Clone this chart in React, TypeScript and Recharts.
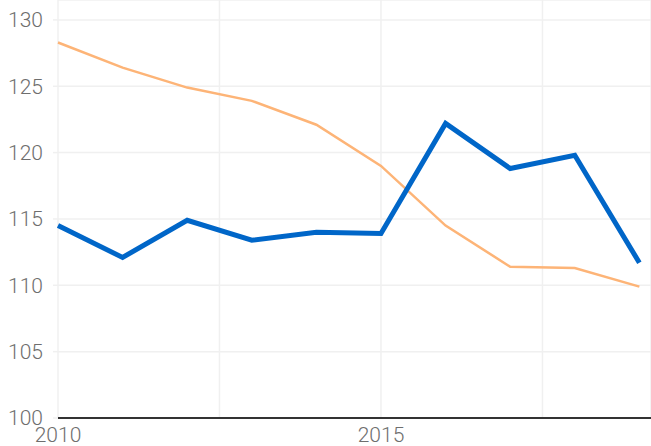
import { LineChart, Line, XAxis, YAxis, CartesianGrid } from 'recharts';

const years = [2010, 2011, 2012, 2013, 2014, 2015, 2016, 2017, 2018, 2019];
const blueSeries = [114.5, 112.1, 114.9, 113.4, 114.0, 113.9, 122.2, 118.8, 119.8, 111.7];
const orangeSeries = [128.3, 126.4, 124.9, 123.9, 122.1, 119.0, 114.5, 111.4, 111.3, 109.9];
const xTicks = [2010, 2012.5, 2015, 2017.5];
const yTicks = [100, 105, 110, 115, 120, 125, 130];

const data = years.map((year, i) => ({ year, blue: blueSeries[i], orange: orangeSeries[i] }));

const tickStyle = { fill: '#6e6e6e', fontSize: 21, fontWeight: 300, fontFamily: 'Roboto, sans-serif' };

export default function App() {
  return (
    <div style={{ position: 'fixed', left: 0, top: 0, width: 651, height: 446, background: '#fff' }}>
      <LineChart width={651} height={446} data={data} margin={{ top: 0, right: 0, bottom: 0, left: 0 }}>
        <CartesianGrid stroke="#f0f0f0" strokeWidth={1.5} />
        <XAxis
          dataKey="year"
          type="number"
          domain={[2010, 2019.18]}
          ticks={xTicks}
          tickFormatter={(v: number) => (Number.isInteger(v) ? String(v) : '')}
          axisLine={{ stroke: '#333', strokeWidth: 2 }}
          tickLine={false}
          tickMargin={3}
          tick={tickStyle}
          interval={0}
          height={28}
        />
        <YAxis
          type="number"
          domain={[100, 131.5]}
          ticks={yTicks}
          axisLine={false}
          tickLine={{ stroke: '#f0f0f0', strokeWidth: 1.5 }}
          tickSize={5}
          tickMargin={10}
          tick={tickStyle}
          width={58}
          interval={0}
        />
        <Line dataKey="orange" stroke="#fdb477" strokeWidth={2.5} dot={false} isAnimationActive={false} />
        <Line dataKey="blue" stroke="#0066c8" strokeWidth={5} dot={false} isAnimationActive={false} />
      </LineChart>
    </div>
  );
}
